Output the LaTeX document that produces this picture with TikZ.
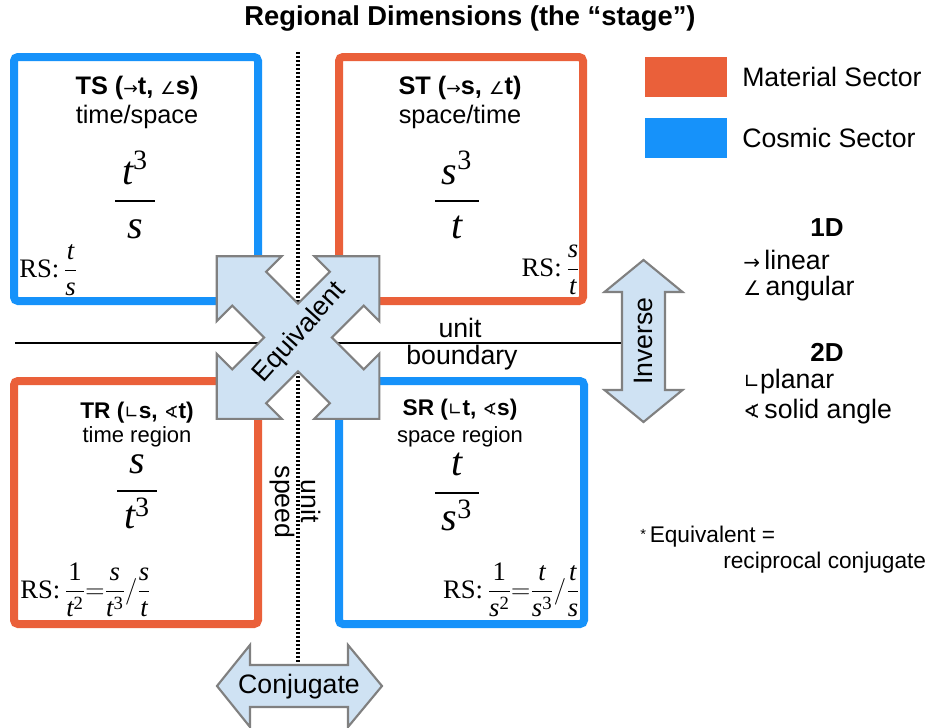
\RequirePackage{fix-cm}
\documentclass[tikz,border=0pt]{standalone}
\usepackage{amsmath}
\usepackage{fontspec}
\setmainfont{Liberation Sans}
\newfontfamily\tnr{Liberation Serif}
\newfontfamily\dvs{DejaVu Sans}
\definecolor{matred}{RGB}{234,96,58}
\definecolor{cosblue}{RGB}{22,146,250}
\definecolor{arrfill}{RGB}{207,226,243}
\definecolor{arrline}{RGB}{128,128,128}
\newcommand\mv[1]{\text{\tnr\itshape #1}}
\newcommand\mn[1]{\text{\tnr #1}}
\newcommand\sy[1]{{\dvs\mdseries\fontsize{13}{13}\selectfont #1}}
\newcommand\syb[1]{{\dvs\mdseries\fontsize{15}{15}\selectfont #1}}
\begin{document}
\begin{tikzpicture}[x=0.75pt,y=-0.75pt,
  boxframe/.style={line width=6pt, rounded corners=3pt},
  arrowshape/.style={fill=arrfill, draw=arrline, line width=1.6pt, line join=miter},
  hd/.style={inner sep=0pt, font=\bfseries\fontsize{19}{22}\selectfont},
  hdsmall/.style={inner sep=0pt, font=\bfseries\fontsize{17}{20}\selectfont},
  sub/.style={inner sep=0pt, font=\fontsize{19}{22}\selectfont},
  subsmall/.style={inner sep=0pt, font=\fontsize{16.5}{20}\selectfont},
  bigf/.style={inner sep=0pt, font=\fontsize{30}{36}\selectfont},
  rs/.style={inner sep=0pt, font=\fontsize{20}{24}\selectfont},
  lab/.style={inner sep=0pt, font=\fontsize{20}{24}\selectfont},
  note/.style={inner sep=0pt, font=\fontsize{17}{20}\selectfont}]
\useasboundingbox (0,0) rectangle (925,728);
\fill[white] (0,0) rectangle (925,728);

% title
\node (title) [inner sep=0pt, font=\bfseries\fontsize{20.5}{24}\selectfont] at (470,18) {Regional Dimensions (the “stage”)};

% boundary lines
\coordinate (dTop) at (298,52);
\coordinate (dBot) at (298,665);
\coordinate (hL) at (15,343);
\coordinate (hR) at (622,343);
\draw[line width=2.6pt, dash pattern=on 1.6pt off 1.4pt] (dTop) -- (dBot);
\draw[line width=1.6pt] (hL) -- (hR);

% boxes
\draw[boxframe, draw=cosblue] (14,57) rectangle (258,301);
\draw[boxframe, draw=matred] (339,57) rectangle (583,301);
\draw[boxframe, draw=matred] (14,381) rectangle (258,624);
\draw[boxframe, draw=cosblue] (339,381) rectangle (584,624);

% TS
\node (tsT) [hd] at (137,88) {TS (\sy{→}t, \sy{∠}s)};
\node (tsS) [sub] at (137,117) {time/space};
\node (tsF) [bigf] at (135,195) {$\displaystyle\frac{\,\mv{t}^{\mn{3}}\,}{\mv{s}}$};
\node (tsR) [rs, anchor=west] at (19,270) {\tnr RS:\,$\displaystyle\frac{\mv{t}}{\mv{s}}$};

% ST
\node (stT) [hd] at (460,88) {ST (\sy{→}s, \sy{∠}t)};
\node (stS) [sub] at (460,117) {space/time};
\node (stF) [bigf] at (457,195) {$\displaystyle\frac{\,\mv{s}^{\mn{3}}\,}{\mv{t}}$};
\node (stR) [rs, anchor=east] at (580,270) {\tnr RS:\,$\displaystyle\frac{\mv{s}}{\mv{t}}$};

% TR
\node (trT) [hdsmall] at (137,413) {TR (\sy{∟}s, \sy{∢}t)};
\node (trS) [subsmall] at (137,437) {time region};
\node (trF) [bigf] at (137,492) {$\displaystyle\frac{\mv{s}}{\,\mv{t}^{\mn{3}}\,}$};
\node (trR) [rs, anchor=west] at (20,590) {\tnr RS:\,$\displaystyle\frac{\mn{1}}{\mv{t}^{\mn{2}}}{=}\frac{\mv{s}}{\mv{t}^{\mn{3}}}/\frac{\mv{s}}{\mv{t}}$};

% SR
\node (srT) [hdsmall] at (460,410) {SR (\sy{∟}t, \sy{∢}s)};
\node (srS) [subsmall] at (460,437) {space region};
\node (srF) [bigf] at (457,492) {$\displaystyle\frac{\mv{t}}{\,\mv{s}^{\mn{3}}\,}$};
\node (srR) [rs, anchor=east] at (580,590) {\tnr RS:\,$\displaystyle\frac{\mn{1}}{\mv{s}^{\mn{2}}}{=}\frac{\mv{t}}{\mv{s}^{\mn{3}}}/\frac{\mv{t}}{\mv{s}}$};

% unit boundary / unit speed
\node (unitB) [lab] at (460,328) {unit};
\node (bound) [lab] at (462,358) {boundary};
\node (unitS) [lab, rotate=-90] at (311,501) {unit};
\node (speed) [lab, rotate=-90] at (282,502) {speed};

% Equivalent cross
\begin{scope}[shift={(298,337.5)}, rotate=45]
\draw[arrowshape]
 (24,-24) -- (69,-24) -- (69,-46) -- (115,0) -- (69,46) -- (69,24) -- (24,24)
 -- (24,69) -- (46,69) -- (0,115) -- (-46,69) -- (-24,69) -- (-24,24)
 -- (-69,24) -- (-69,46) -- (-115,0) -- (-69,-46) -- (-69,-24) -- (-24,-24)
 -- (-24,-69) -- (-46,-69) -- (0,-115) -- (46,-69) -- (24,-69) -- cycle;
\end{scope}
\node (equiv) [lab, rotate=48] at (300,333) {Equivalent};

% Inverse arrow
\draw[arrowshape] (643.5,260) -- (682.5,292) -- (665,292) -- (665,390) -- (682.5,390)
  -- (643.5,422) -- (604.5,390) -- (622,390) -- (622,292) -- (604.5,292) -- cycle;
\node (inverse) [lab, rotate=90] at (643.5,341) {Inverse};

% Conjugate arrow
\draw[arrowshape] (217,686) -- (250,645) -- (250,665) -- (348,665) -- (348,645)
  -- (382,686) -- (348,727) -- (348,707) -- (250,707) -- (250,727) -- cycle;
\node (conj) [lab] at (299,687) {Conjugate};

% legend
\fill[matred] (645,57) rectangle (727,97);
\fill[cosblue] (645,118) rectangle (727,158);
\node (matL) [lab, anchor=west] at (742,77) {Material Sector};
\node (cosL) [lab, anchor=west] at (742,138) {Cosmic Sector};

% 1D / 2D
\node (oneD) [inner sep=0pt, font=\bfseries\fontsize{19.5}{22}\selectfont] at (827,228) {1D};
\node (lin) [lab, anchor=west] at (743,260) {\syb{→}\,linear};
\node (ang) [lab, anchor=west] at (743,289) {\syb{∠}\,angular};
\node (twoD) [inner sep=0pt, font=\bfseries\fontsize{19.5}{22}\selectfont] at (827,352) {2D};
\node (plan) [lab, anchor=west] at (743,382) {\syb{∟}planar};
\node (solid) [lab, anchor=west] at (743,412) {\syb{∢}\,solid angle};

% footnote
\node (fn1) [note, anchor=west] at (640,537) {\raisebox{0.3ex}{\fontsize{11}{11}\selectfont *}\,Equivalent =};
\node (fn2) [note, anchor=west] at (723,563) {reciprocal conjugate};
\end{tikzpicture}
\end{document}
